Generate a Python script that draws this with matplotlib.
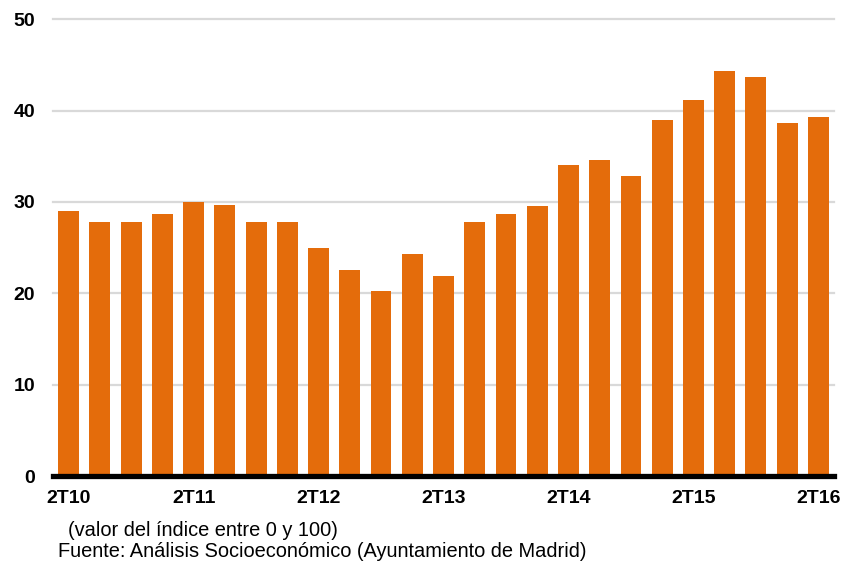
import numpy as np
import matplotlib
matplotlib.use("Agg")
import matplotlib.pyplot as plt

# ---------- DATA ----------
quarters = [
    "2T10", "3T10", "4T10", "1T11",
    "2T11", "3T11", "4T11", "1T12",
    "2T12", "3T12", "4T12", "1T13",
    "2T13", "3T13", "4T13", "1T14",
    "2T14", "3T14", "4T14", "1T15",
    "2T15", "3T15", "4T15", "1T16",
    "2T16",
]
values = [
    29.0, 27.8, 27.8, 28.7,
    30.0, 29.7, 27.8, 27.8,
    25.0, 22.5, 20.3, 24.3,
    21.9, 27.8, 28.7, 29.6,
    34.0, 34.6, 32.8, 39.0,
    41.2, 44.3, 43.7, 38.7,
    39.3,
]
shown_labels = ["2T10", "2T11", "2T12", "2T13", "2T14", "2T15", "2T16"]
y_ticks = [0, 10, 20, 30, 40, 50]

note = "(valor del índice entre 0 y 100)"
source = "Fuente: Análisis Socioeconómico (Ayuntamiento de Madrid)"
# --------------------------

BAR_COLOR = "#E46C0B"
GRID_COLOR = "#D9D9D9"

plt.rcParams["font.family"] = ["Liberation Sans", "DejaVu Sans"]

fig = plt.figure(figsize=(8.53, 5.63), dpi=100)
ax = fig.add_axes([0.0621, 0.1545, 0.9157, 0.8112])

x = np.arange(len(quarters))
ax.bar(x, values, width=0.67, color=BAR_COLOR, zorder=3)

ax.set_xlim(-0.5, len(quarters) - 0.5)
ax.set_ylim(0, 50)

# horizontal grid, baseline drawn separately in black
for t in y_ticks[1:]:
    ax.axhline(t, color=GRID_COLOR, lw=1.6, zorder=1, clip_on=False)
ax.axhline(0, color="black", lw=3.8, zorder=4, clip_on=False)

ax.set_yticks(y_ticks)
ax.set_yticklabels([str(t) for t in y_ticks], fontsize=14, fontweight="bold")
tick_pos = [quarters.index(q) for q in shown_labels]
ax.set_xticks(tick_pos)
ax.set_xticklabels(shown_labels, fontsize=14, fontweight="bold")
ax.tick_params(axis="y", length=0, pad=13)
ax.tick_params(axis="x", length=0, pad=10)

for s in ax.spines.values():
    s.set_visible(False)

fig.text(68 / 853, 1 - 536 / 563, note, fontsize=14.4, ha="left", va="baseline")
fig.text(58 / 853, 1 - 557 / 563, source, fontsize=14.4, ha="left", va="baseline")

fig.savefig("out.png", dpi=100)
